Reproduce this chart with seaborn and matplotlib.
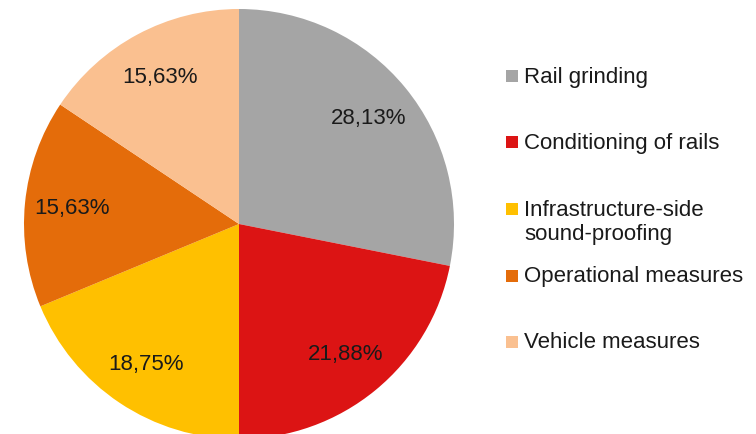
import matplotlib
matplotlib.use("Agg")
import matplotlib.pyplot as plt
from matplotlib.patches import Rectangle
import seaborn as sns

categories = ["Rail grinding", "Conditioning of rails", "Infrastructure-side\nsound-proofing",
              "Operational measures", "Vehicle measures"]
shares = [28.13, 21.88, 18.75, 15.63, 15.63]
colors = ["#A5A5A5", "#DC1414", "#FFC000", "#E46C0A", "#FAC090"]

sns.set_theme(style="white")
plt.rcParams["font.family"] = ["Liberation Sans", "DejaVu Sans"]

W, H = 756, 435
fig = plt.figure(figsize=(W / 100, H / 100), dpi=100)
fig.patch.set_facecolor("white")

# pie axes: radius 215 px, centre at (239, 225) from the top-left corner
R = 215
cx, cy = 239, 225
ax = fig.add_axes([(cx - R) / W, (H - cy - R) / H, 2 * R / W, 2 * R / H])
pct_labels = [f"{v:.2f}%".replace(".", ",") for v in shares]
ax.pie(shares, colors=colors, labels=pct_labels, startangle=90, counterclock=False,
       labeldistance=0.78, wedgeprops=dict(linewidth=0),
       textprops=dict(fontsize=16, color="#1a1a1a", ha="center", va="center"))
ax.set_xlim(-1, 1)
ax.set_ylim(-1, 1)
ax.set_aspect("equal")
ax.axis("off")

# legend on the right, one row per category
row_y = [77, 143, 210, 277, 343]
line_step = 25
for cat, col, y in zip(categories, colors, row_y):
    fig.patches.append(Rectangle((506 / W, 1 - (y + 6) / H), 12 / W, 12 / H,
                                 transform=fig.transFigure, facecolor=col,
                                 edgecolor="none"))
    for i, line in enumerate(cat.split("\n")):
        fig.text(524 / W, 1 - (y + i * line_step) / H, line, fontsize=16,
                 color="#1a1a1a", ha="left", va="center")

fig.savefig("out.png", dpi=100)
